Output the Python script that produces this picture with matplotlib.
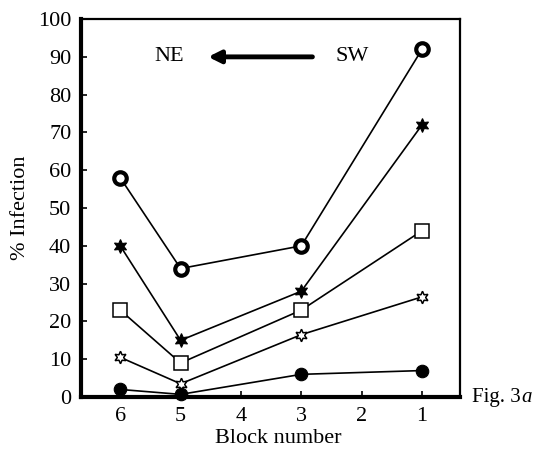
"""Percent infection by block number (Fig. 3a)."""

import matplotlib

matplotlib.use("Agg")
import matplotlib.pyplot as plt

blocks = [6, 5, 3, 1]
ring_circle = [58, 34, 40, 92]
filled_star = [40, 15, 28, 72]
open_square = [23, 9, 23, 44]
open_star = [10.5, 3.5, 16.5, 26.5]
filled_circle = [2, 0.7, 6, 7]

x_ticks = [6, 5, 4, 3, 2, 1]
y_ticks = list(range(0, 101, 10))

plt.rcParams["font.family"] = ["Liberation Serif", "DejaVu Serif"]

fig = plt.figure(figsize=(5.38, 4.51), dpi=100)
ax = fig.add_axes([0.1506, 0.1197, 0.7045, 0.838])

star6 = (6, 1, 0)
series = [
    (ring_circle, dict(marker="o", markersize=9, markerfacecolor="white", markeredgewidth=3)),
    (filled_star, dict(marker=star6, markersize=10, markerfacecolor="black", markeredgewidth=0.8)),
    (open_square, dict(marker="s", markersize=10, markerfacecolor="white", markeredgewidth=1.1)),
    (open_star, dict(marker=star6, markersize=9, markerfacecolor="white", markeredgewidth=1.1)),
    (filled_circle, dict(marker="o", markersize=9, markerfacecolor="black", markeredgewidth=0.8)),
]
for values, style in series:
    ax.plot(blocks, values, color="black", linewidth=1.2, markeredgecolor="black",
            clip_on=False, zorder=3, **style)

ax.set_xlim(6.65, 0.37)
ax.set_ylim(0, 100)
ax.set_xticks(x_ticks)
ax.set_yticks(y_ticks)
ax.tick_params(direction="in", length=4, width=1.2, labelsize=16, pad=7)

for side in ("left", "bottom"):
    ax.spines[side].set_linewidth(3)
for side in ("top", "right"):
    ax.spines[side].set_linewidth(1.6)

ax.set_xlabel("Block number", fontsize=16, labelpad=1)
ax.set_ylabel("% Infection", fontsize=16, labelpad=6)
ax.xaxis.set_label_coords(0.52, -0.085)

# direction arrow NE <- SW
ax.annotate("", xy=(4.59, 90), xytext=(2.77, 90),
            arrowprops=dict(arrowstyle="-|>", color="black", lw=3.5, mutation_scale=18))
ax.text(5.19, 90, "NE", fontsize=16, ha="center", va="center")
ax.text(2.16, 90, "SW", fontsize=16, ha="center", va="center")

fig_label = fig.text(0.877, 0.118, "Fig. 3", fontsize=15, ha="left", va="center")
ax.annotate("a", xy=(1, 0.5), xycoords=fig_label, xytext=(0.5, 0), textcoords="offset points",
            fontsize=15, style="italic", ha="left", va="center")

fig.savefig("out.png", dpi=100)
